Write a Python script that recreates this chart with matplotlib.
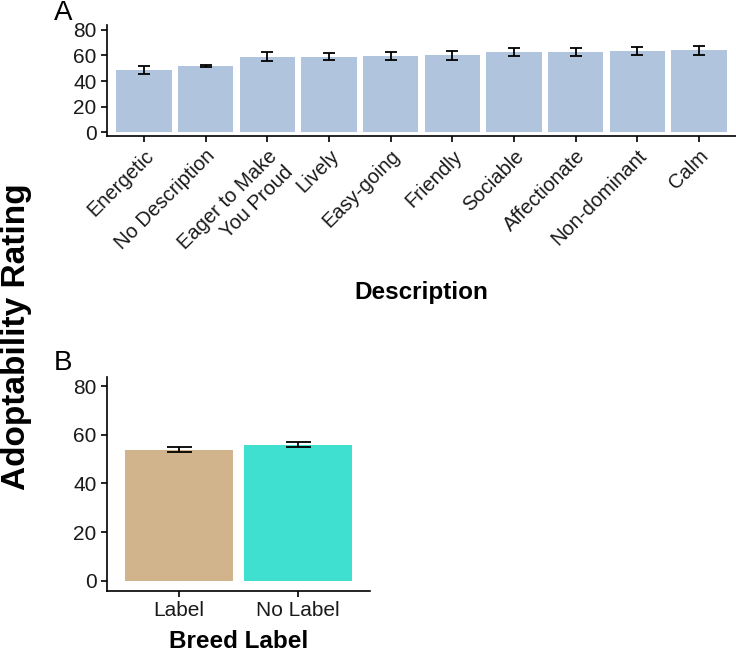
import numpy as np
import matplotlib.pyplot as plt

plt.rcParams['font.family'] = ['Liberation Sans', 'DejaVu Sans']

# panel A data
descriptions = ['Energetic', 'No Description', 'Eager to Make\nYou Proud', 'Lively',
                'Easy-going', 'Friendly', 'Sociable', 'Affectionate', 'Non-dominant', 'Calm']
desc_mean = [48.4, 51.7, 58.9, 59.0, 59.2, 60.0, 62.4, 62.5, 63.4, 63.8]
desc_err = [3.2, 0.8, 3.4, 2.8, 3.0, 3.4, 3.1, 3.4, 3.2, 3.2]

# panel B data
breed_labels = ['Label', 'No Label']
breed_mean = [53.9, 55.9]
breed_err = [1.0, 1.1]
breed_colors = ['#D2B48C', '#40E0D0']

W, H = 736, 651
fig = plt.figure(figsize=(W / 100, H / 100), dpi=100)

def px_axes(left, top, right, bottom):
    return fig.add_axes([left / W, 1 - bottom / H, (right - left) / W, (bottom - top) / H])

def style(ax):
    for s in ['top', 'right']:
        ax.spines[s].set_visible(False)
    for s in ['left', 'bottom']:
        ax.spines[s].set_linewidth(1.2)
    ax.tick_params(width=1.2, length=4, color='black', labelcolor='#1a1a1a', labelsize=15)

axA = px_axes(107, 25, 736, 136)
x = np.arange(len(descriptions))
axA.bar(x, desc_mean, width=0.9, color='#B0C4DE', edgecolor='none')
axA.errorbar(x, desc_mean, yerr=desc_err, fmt='none', ecolor='black',
             elinewidth=1.3, capsize=4.5, capthick=1.3)
axA.set_xlim(-0.6, len(descriptions) - 0.4)
axA.set_ylim(-2.8, 83.6)
axA.set_yticks([0, 20, 40, 60, 80])
axA.set_xticks(x)
axA.set_xticklabels(descriptions, rotation=45, ha='right', va='top',
                    rotation_mode='anchor')
style(axA)
axA.tick_params(axis='x', labelsize=14.5)

axB = px_axes(107, 377, 370, 591)
xb = np.arange(len(breed_labels))
axB.bar(xb, breed_mean, width=0.9, color=breed_colors, edgecolor='none')
axB.errorbar(xb, breed_mean, yerr=breed_err, fmt='none', ecolor='black',
             elinewidth=1.3, capsize=9, capthick=1.3)
axB.set_xlim(-0.6, 1.6)
axB.set_ylim(-4.2, 83.7)
axB.set_yticks([0, 20, 40, 60, 80])
axB.set_xticks(xb)
axB.set_xticklabels(breed_labels)
style(axB)

fig.text(421 / W, 1 - 292 / H, 'Description', ha='center', va='center',
         fontsize=17.5, fontweight='bold')
fig.text(239 / W, 1 - 641 / H, 'Breed Label', ha='center', va='center',
         fontsize=17.5, fontweight='bold')
fig.text(17 / W, 1 - 337 / H, 'Adoptability Rating', ha='center', va='center',
         rotation=90, fontsize=24, fontweight='bold')
fig.text(54 / W, 1 - 13 / H, 'A', ha='left', va='center', fontsize=20)
fig.text(54 / W, 1 - 363 / H, 'B', ha='left', va='center', fontsize=20)

fig.savefig('out.png', dpi=100)
